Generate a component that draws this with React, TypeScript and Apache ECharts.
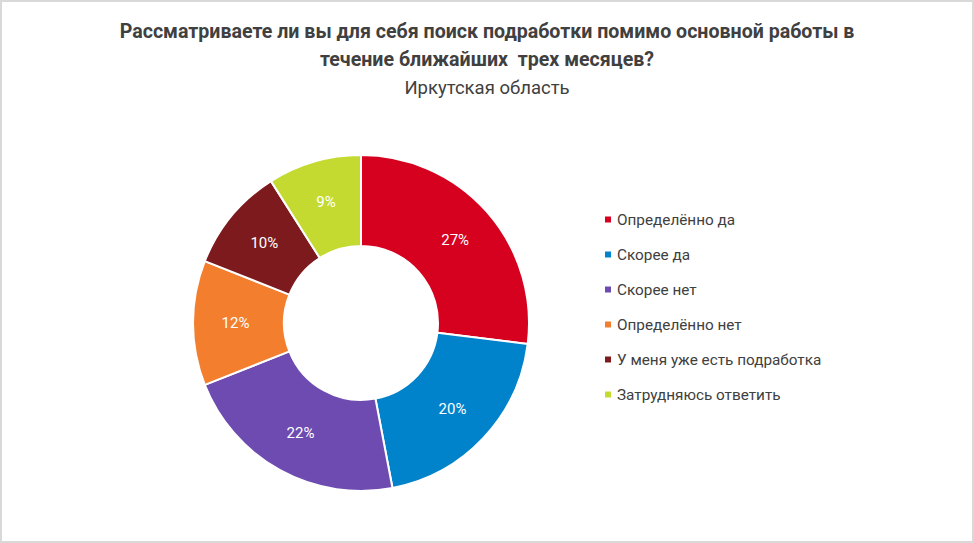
import React, { useEffect, useRef } from "react";
import * as echarts from "echarts";

const categories = [
  "Определённо да",
  "Скорее да",
  "Скорее нет",
  "Определённо нет",
  "У меня уже есть подработка",
  "Затрудняюсь ответить",
];
const values = [27, 20, 22, 12, 10, 9];
const colors = ["#D6001F", "#0083CB", "#6E4BB1", "#F27E2E", "#7D1A1D", "#C4DA30"];

const titleLines = [
  "Рассматриваете ли вы для себя поиск подработки помимо основной работы в",
  "течение ближайших  трех месяцев?",
];
const subtitleText = "Иркутская область";

export default function App() {
  const ref = useRef<HTMLDivElement>(null);
  useEffect(() => {
    document.body.style.margin = "0";
    const chart = echarts.init(ref.current!, null, { renderer: "svg" });
    const font = "Roboto, 'Noto Sans', sans-serif";
    chart.setOption({
      animation: false,
      backgroundColor: "#ffffff",
      color: colors,
      legend: {
        orient: "vertical",
        left: 598,
        top: 207,
        itemWidth: 8,
        itemHeight: 8,
        itemGap: 20,
        icon: "rect",
        textStyle: { fontFamily: font, fontSize: 15.3, color: "#404040" },
        data: categories,
      },
      graphic: [
        {
          type: "rect",
          shape: { x: 1, y: 1, width: 972, height: 541 },
          style: { fill: "none", stroke: "#d9d9d9", lineWidth: 2 },
          silent: true,
        },
        ...titleLines.map((t, i) => ({
          type: "text",
          x: 487,
          y: 31 + i * 28,
          style: {
            text: t,
            textAlign: "center",
            textVerticalAlign: "middle",
            fontFamily: font,
            fontSize: 19.6,
            fontWeight: "bold",
            fill: "#404040",
          },
          silent: true,
        })),
        {
          type: "text",
          x: 487,
          y: 88,
          style: {
            text: subtitleText,
            textAlign: "center",
            textVerticalAlign: "middle",
            fontFamily: font,
            fontSize: 18.5,
            fill: "#404040",
          },
          silent: true,
        },
      ],
      series: [
        {
          type: "pie",
          center: [361, 323],
          radius: [77, 168],
          startAngle: 90,
          clockwise: true,
          avoidLabelOverlap: false,
          itemStyle: { borderColor: "#ffffff", borderWidth: 2 },
          label: {
            show: true,
            position: "inside",
            formatter: "{c}%",
            color: "#ffffff",
            fontFamily: font,
            fontSize: 15,
          },
          labelLine: { show: false },
          emphasis: { disabled: true },
          data: categories.map((name, i) => ({ name, value: values[i] })),
        },
      ],
    });
    return () => chart.dispose();
  }, []);
  return <div ref={ref} style={{ width: 974, height: 543 }} />;
}
